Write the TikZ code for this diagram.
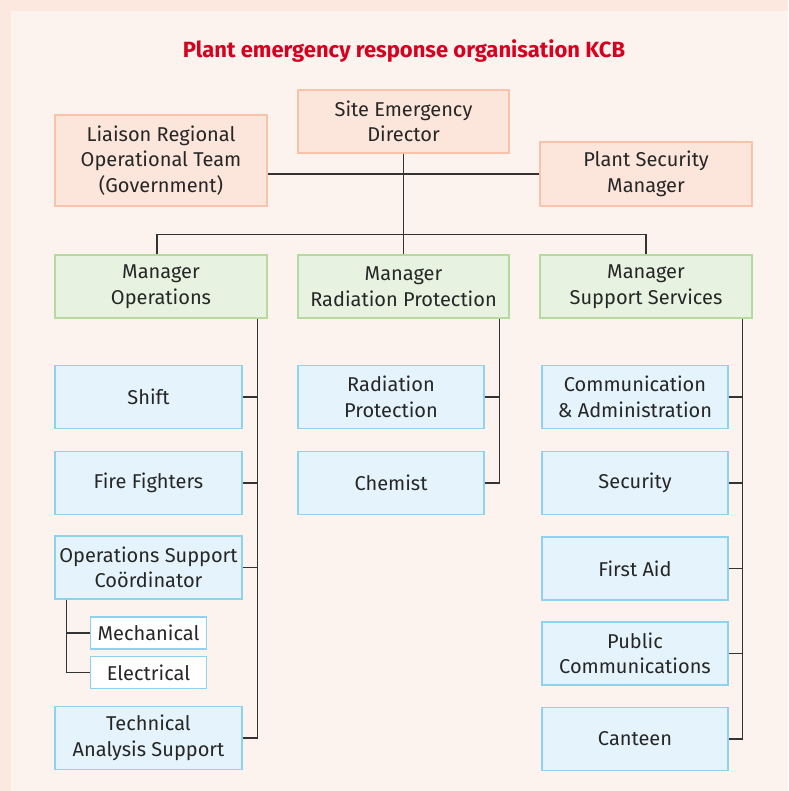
\documentclass[tikz,border=0pt]{standalone}
\usepackage{fontspec}
\setmainfont{Fira Sans}
\usepackage{tikz}
\usetikzlibrary{positioning, calc}
\usepackage{xcolor}
\definecolor{pageout}{HTML}{FCE8DF}
\definecolor{pagein}{HTML}{FDF3EE}
\definecolor{leadfill}{HTML}{FCE5DB}
\definecolor{leadline}{HTML}{F8C3A8}
\definecolor{mgrfill}{HTML}{E8F2E1}
\definecolor{mgrline}{HTML}{B4DA9E}
\definecolor{teamfill}{HTML}{E5F4FC}
\definecolor{teamline}{HTML}{8DD3F0}
\definecolor{titlered}{HTML}{D7001E}
\definecolor{wire}{HTML}{333333}
\tikzset{
  orgbox/.style={draw, line width=1.3pt, align=center, inner sep=0pt,
    font=\fontsize{20}{25.5}\selectfont, text=black!85},
  leadbox/.style={orgbox, fill=leadfill, draw=leadline, minimum width=212pt},
  mgrbox/.style={orgbox, fill=mgrfill, draw=mgrline, minimum width=212pt, minimum height=63pt},
  teambox/.style={orgbox, fill=teamfill, draw=teamline, minimum width=187pt, minimum height=63pt},
  subbox/.style={orgbox, fill=white, draw=teamline, minimum width=116pt, minimum height=32pt},
  wires/.style={draw=wire, line width=1.3pt}
}

\begin{document}
\begin{tikzpicture}[x=1pt, y=-1pt]
  % achtergrond met rand links en boven
  \fill[pageout] (0,0) rectangle (788,791);
  \fill[pagein] (11,11) rectangle (788,791);
  \useasboundingbox (0,0) rectangle (788,791);

  \node[titlered, font=\fontsize{22}{26}\selectfont\bfseries] (title) at (404,51) {Plant emergency response organisation KCB};

  % leiding
  \node[leadbox, minimum height=91pt] (liaison) at (161,160.5) {Liaison Regional\\Operational Team\\(Government)};
  \node[leadbox, minimum height=63pt, minimum width=211pt] (sed) at (403.5,121.5) {Site Emergency\\Director};
  \node[leadbox, minimum height=64pt] (psm) at (646,174) {Plant Security\\Manager};

  % managers
  \node[mgrbox] (mo) at (161,286.5) {Manager\\Operations};
  \node[mgrbox, minimum width=211pt] (mrp) at (403.5,286.5) {Manager\\Radiation Protection};
  \node[mgrbox] (mss) at (646,286.5) {Manager\\Support Services};

  % operations
  \node[teambox] (shift) at (148.5,397) {Shift};
  \node[teambox] (fire) at (148.5,483) {Fire Fighters};
  \node[teambox] (osc) at (148.5,567.5) {Operations Support\\Coördinator};
  \node[subbox] (mech) at (148.5,633) {Mechanical};
  \node[subbox] (elec) at (148.5,672.5) {Electrical};
  \node[teambox] (tech) at (148.5,738) {Technical\\Analysis Support};

  % stralingsbescherming
  \node[teambox, minimum width=186pt] (radprot) at (391,397) {Radiation\\Protection};
  \node[teambox, minimum width=186pt] (chem) at (391,483) {Chemist};

  % ondersteuning
  \node[teambox, minimum width=186pt] (comm) at (635,397) {Communication\\\& Administration};
  \node[teambox, minimum width=186pt] (secu) at (635,483) {Security};
  \node[teambox, minimum width=186pt] (aid) at (635,568.5) {First Aid};
  \node[teambox, minimum width=186pt] (pubcom) at (635,653.5) {Public\\Communications};
  \node[teambox, minimum width=186pt] (canteen) at (635,739) {Canteen};

  % lijnen
  \draw[wires] (psm.west) -- (psm.west -| liaison.east);
  \draw[wires] (sed.south) -- (mrp.north);
  \draw[wires] ([xshift=-4pt]mo.north) -- ++(0,-20) -| (mss.north);

  \coordinate (morail) at ([xshift=-10pt]mo.south east);
  \draw[wires] (morail) |- (tech.east);
  \foreach \t in {shift, fire, osc}
    \draw[wires] (\t.east) -- (\t.east -| morail);
  \coordinate (osrail) at ([xshift=12pt]osc.south west);
  \draw[wires] (osrail) |- (elec.west);
  \draw[wires] (mech.west) -- (mech.west -| osrail);

  \coordinate (rprail) at ([xshift=-10pt]mrp.south east);
  \draw[wires] (rprail) |- (chem.east);
  \draw[wires] (radprot.east) -- (radprot.east -| rprail);

  \coordinate (ssrail) at ([xshift=-10pt]mss.south east);
  \draw[wires] (ssrail) |- (canteen.east);
  \foreach \t in {comm, secu, aid, pubcom}
    \draw[wires] (\t.east) -- (\t.east -| ssrail);
\end{tikzpicture}
\end{document}
